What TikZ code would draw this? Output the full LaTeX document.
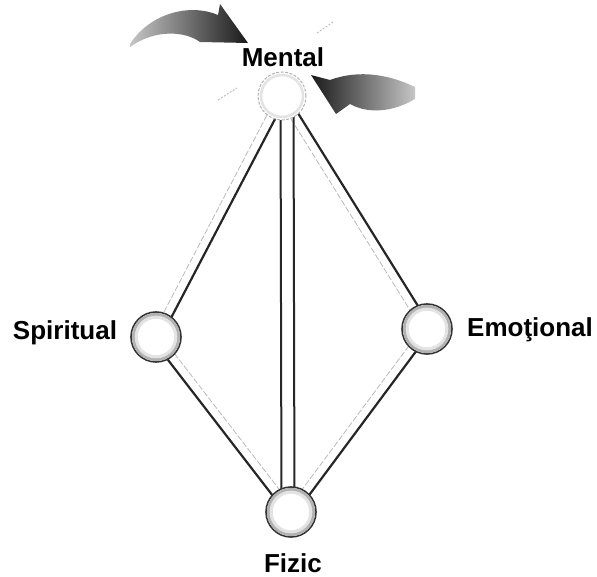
\documentclass[tikz,border=0pt]{standalone}
\usepackage{fontspec}
\setmainfont{Liberation Sans}
\usetikzlibrary{calc}
\tikzset{
  ball/.style={circle, minimum size=50pt, inner sep=0pt, fill=white, draw=black!80, line width=1.6pt},
  ballring/.style={draw=gray!60, line width=3pt},
  ballsoft/.style={draw=gray!22, line width=3pt},
  lightball/.style={circle, minimum size=48pt, inner sep=0pt, fill=white, draw=gray!60, line width=1pt, dash pattern=on 3pt off 1.5pt},
  lightring/.style={draw=gray!22, line width=2.5pt},
  darkrod/.style={draw=black!85, line width=2.2pt},
  lightrod/.style={draw=gray!55, line width=0.8pt, dash pattern=on 6pt off 2pt},
  lab/.style={font=\fontsize{26}{30}\selectfont\bfseries, inner sep=0pt},
  ray/.style={draw=gray!50, line width=1pt, dash pattern=on 2pt off 1.5pt}
}
\begin{document}
\begin{tikzpicture}[x=1pt,y=-1pt]
\useasboundingbox (0,0) rectangle (597,577);
% node positions
\coordinate (Mc) at (282,96);
\coordinate (Sc) at (156,337);
\coordinate (Ec) at (427,329);
\coordinate (Fc) at (291,512);
\coordinate (vt) at (287,96);
\coordinate (vb) at (288,512);
% rods
\draw[darkrod] ($(Mc)!4.5pt!90:(Sc)$) -- ($(Sc)!4.5pt!-90:(Mc)$);
\draw[lightrod] ($(Mc)!4.5pt!-90:(Sc)$) -- ($(Sc)!4.5pt!90:(Mc)$);
\draw[darkrod] ($(Mc)!4.5pt!90:(Ec)$) -- ($(Ec)!4.5pt!-90:(Mc)$);
\draw[lightrod] ($(Mc)!4.5pt!-90:(Ec)$) -- ($(Ec)!4.5pt!90:(Mc)$);
\draw[darkrod] ($(Sc)!4.5pt!-90:(Fc)$) -- ($(Fc)!4.5pt!90:(Sc)$);
\draw[lightrod] ($(Sc)!4.5pt!90:(Fc)$) -- ($(Fc)!4.5pt!-90:(Sc)$);
\draw[darkrod] ($(Ec)!4.5pt!90:(Fc)$) -- ($(Fc)!4.5pt!-90:(Ec)$);
\draw[lightrod] ($(Ec)!4.5pt!-90:(Fc)$) -- ($(Fc)!4.5pt!90:(Ec)$);
\draw[darkrod, line width=2pt] ($(vt)+(-6.5,0)$) -- ($(vb)+(-6.5,0)$);
\draw[darkrod, line width=2pt] ($(vt)+(6.5,0)$) -- ($(vb)+(6.5,0)$);
% balls
\node[lightball] (M) at (Mc) {};
\draw[lightring] (M.center) circle (21pt);
\foreach \b in {S,E,F}{
  \node[ball] (\b) at (\b c) {};
  \draw[ballring] (\b.center) circle (22.6pt);
  \draw[ballsoft] (\b.center) circle (19.8pt);
}
% labels
\node[lab] (tM) at (283,57) {Mental};
\node[lab] (tS) at (65,333) {Spiritual};
\node[lab] (tE) at (530,330) {Emoţional};
\node[lab] (tF) at (293,563) {Fizic};
% swoosh arrows
\shade[left color=gray!45, right color=black!90]
  (130,44) .. controls (150,13) and (190,3) .. (218,15) -- (220,4) -- (248,43) -- (200,42)
  .. controls (185,31) and (155,29) .. (130,47) -- cycle;
\shade[left color=black!90, right color=gray!45]
  (311,75) -- (336,114) -- (350,104) .. controls (370,115) and (395,111) .. (415,99)
  -- (415,87) .. controls (390,75) and (360,69) .. (330,80) -- cycle;
% faint rays
\draw[ray] (218,100) -- (237,88);
\draw[ray] (317,33) -- (333,22);
\end{tikzpicture}
\end{document}
